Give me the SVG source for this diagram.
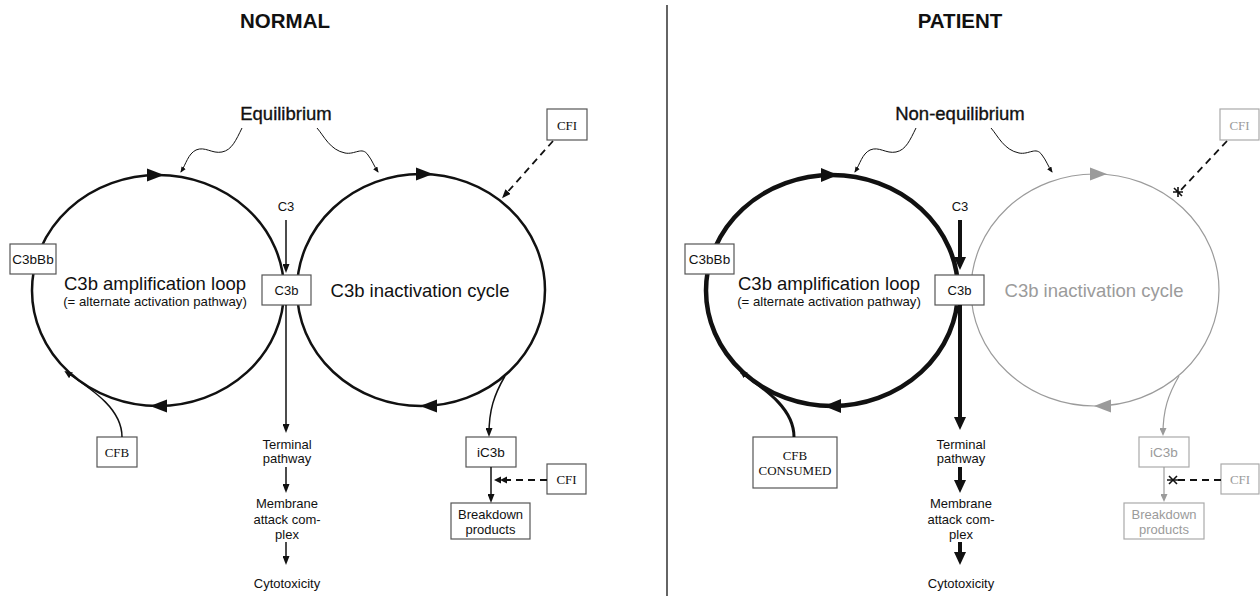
<svg xmlns="http://www.w3.org/2000/svg" width="1260" height="596" viewBox="0 0 1260 596">
<style>
text{font-family:"Liberation Sans",Arial,sans-serif;fill:#111;text-anchor:middle}
.title{font-size:20.5px;font-weight:bold}
.eq{font-size:18.5px;stroke:#111;stroke-width:0.35}
.big{font-size:18.5px}
.sub{font-size:13.2px}
.lbl{font-size:13px}
.serif{font-family:"Liberation Serif","Times New Roman",serif;font-size:13px}
.gtxt{fill:#9b9b9b}
.box{fill:#fff;stroke:#555;stroke-width:1.2}
.gbox{fill:#fff;stroke:#aaa;stroke-width:1.2}
.cyc{fill:none;stroke:#111;stroke-width:2.5}
.cycT{fill:none;stroke:#111;stroke-width:4.5}
.cycG{fill:none;stroke:#9b9b9b;stroke-width:1.2}
.head{fill:#111}
.gh{fill:#9b9b9b}
.ln{fill:none;stroke:#111;stroke-width:1.5}
.lnT{fill:none;stroke:#111;stroke-width:4}
.lnG{fill:none;stroke:#9b9b9b;stroke-width:1.2}
.wavy{fill:none;stroke:#111;stroke-width:1}
.dash{fill:none;stroke:#111;stroke-width:1.8;stroke-dasharray:7 5}
.mk{fill:none;stroke:#111;stroke-width:1.6}
</style>
<defs>
<marker id="sm" markerUnits="userSpaceOnUse" markerWidth="9" markerHeight="7" refX="6" refY="3.5" orient="auto"><path d="M0,0 L9,3.5 L0,7 z" fill="#111"/></marker>
<marker id="bg" markerUnits="userSpaceOnUse" markerWidth="13" markerHeight="12" refX="8" refY="6" orient="auto"><path d="M0,0 L13,6 L0,12 z" fill="#111"/></marker>
<marker id="ti" markerUnits="userSpaceOnUse" markerWidth="6" markerHeight="5" refX="5" refY="2.5" orient="auto"><path d="M0,0 L6,2.5 L0,5 z" fill="#111"/></marker>
<marker id="gr" markerUnits="userSpaceOnUse" markerWidth="8" markerHeight="7" refX="6" refY="3.5" orient="auto"><path d="M0,0 L8,3.5 L0,7 z" fill="#9b9b9b"/></marker>
<marker id="cb" markerUnits="userSpaceOnUse" markerWidth="8" markerHeight="7" refX="6" refY="3.5" orient="auto"><path d="M0,0 L8,3.5 L0,7 z" fill="#111"/></marker>
</defs>
<rect width="1260" height="596" fill="#fff"/>

<g id="titles">
<text class="title" x="285" y="28">NORMAL</text>
<text class="title" x="960" y="28">PATIENT</text>
<line x1="667" y1="5" x2="667" y2="596" stroke="#111" stroke-width="1.3"/>
</g>

<!-- NORMAL panel -->
<g id="n-equilibrium"><text class="eq" x="286" y="120">Equilibrium</text></g>
<g id="n-amp-loop">
<ellipse class="cyc" cx="158" cy="290.5" rx="126" ry="115.5"/>
<polygon class="head" points="164,175 147,168.5 147,181.5"/>
<polygon class="head" points="150,406 167,399.5 167,412.5"/>
<text class="big" x="155" y="290">C3b amplification loop</text>
<text class="sub" x="155" y="306">(= alternate activation pathway)</text>
</g>
<g id="n-inact-cycle">
<ellipse class="cyc" cx="421" cy="290" rx="124" ry="116"/>
<polygon class="head" points="433,174 416,167.5 416,180.5"/>
<polygon class="head" points="420,406 437,399.5 437,412.5"/>
<text class="big" x="420" y="297">C3b inactivation cycle</text>
</g>
<g id="n-c3"><text class="lbl" x="286" y="211">C3</text></g>
<g id="n-c3b"><rect class="box" x="262" y="275" width="49" height="30"/><text class="lbl" x="286.5" y="295">C3b</text></g>
<g id="n-c3bbb"><rect class="box" x="10" y="244" width="46" height="30"/><text class="lbl" x="33" y="264" style="font-size:13.5px">C3bBb</text></g>
<g id="n-cfb"><rect class="box" x="97" y="437" width="40" height="30"/><text class="serif" x="117" y="457">CFB</text></g>
<g id="n-cfi-top"><rect class="box" x="547" y="109" width="40" height="31"/><text class="serif" x="567" y="130">CFI</text></g>
<g id="n-ic3b"><rect class="box" x="466" y="437" width="50" height="30"/><text class="lbl" x="491" y="457" style="font-size:13.5px">iC3b</text></g>
<g id="n-cfi-low"><rect class="box" x="547" y="464" width="39" height="30"/><text class="serif" x="566.5" y="484">CFI</text></g>
<g id="n-breakdown"><rect class="box" x="451" y="503" width="79" height="36"/><text class="lbl" x="490.5" y="519">Breakdown</text><text class="lbl" x="490.5" y="534">products</text></g>
<g id="n-terminal"><text class="lbl" x="287" y="449">Terminal</text><text class="lbl" x="287" y="463">pathway</text></g>
<g id="n-mac"><text class="lbl" x="287" y="508">Membrane</text><text class="lbl" x="287" y="524">attack com-</text><text class="lbl" x="287" y="539">plex</text></g>
<g id="n-cyto"><text class="lbl" x="287" y="588">Cytotoxicity</text></g>

<!-- PATIENT panel -->
<g id="p-nonequilibrium"><text class="eq" x="960" y="120">Non-equilibrium</text></g>
<g id="p-amp-loop">
<ellipse class="cycT" cx="832" cy="290.5" rx="126" ry="115.5"/>
<polygon class="head" points="838,175 821,168 821,182"/>
<polygon class="head" points="824,406 841,399 841,413"/>
<text class="big" x="829" y="290">C3b amplification loop</text>
<text class="sub" x="829" y="306">(= alternate activation pathway)</text>
</g>
<g id="p-inact-cycle">
<ellipse class="cycG" cx="1095" cy="290" rx="124" ry="116"/>
<polygon class="gh" points="1107,174 1090,167.5 1090,180.5"/>
<polygon class="gh" points="1094,406 1111,399.5 1111,412.5"/>
<text class="big gtxt" x="1094" y="297">C3b inactivation cycle</text>
</g>
<g id="p-c3"><text class="lbl" x="960" y="211">C3</text></g>
<g id="p-c3b"><rect class="box" x="935" y="275" width="49" height="30"/><text class="lbl" x="959.5" y="295">C3b</text></g>
<g id="p-c3bbb"><rect class="box" x="685" y="244" width="49" height="30"/><text class="lbl" x="709.5" y="264" style="font-size:13.5px">C3bBb</text></g>
<g id="p-cfb-consumed"><rect class="box" x="753" y="437" width="84" height="51"/><text class="serif" x="795" y="460">CFB</text><text class="serif" x="795" y="475">CONSUMED</text></g>
<g id="p-cfi-top"><rect class="gbox" x="1220" y="109" width="39" height="31"/><text class="serif gtxt" x="1239.5" y="130">CFI</text></g>
<g id="p-ic3b"><rect class="gbox" x="1139" y="437" width="50" height="30"/><text class="lbl gtxt" x="1164" y="457" style="font-size:13.5px">iC3b</text></g>
<g id="p-cfi-low"><rect class="gbox" x="1221" y="464" width="38" height="30"/><text class="serif gtxt" x="1240" y="484">CFI</text></g>
<g id="p-breakdown"><rect class="gbox" x="1124" y="503" width="80" height="36"/><text class="lbl gtxt" x="1164" y="519">Breakdown</text><text class="lbl gtxt" x="1164" y="534">products</text></g>
<g id="p-terminal"><text class="lbl" x="961" y="449">Terminal</text><text class="lbl" x="961" y="463">pathway</text></g>
<g id="p-mac"><text class="lbl" x="961" y="508">Membrane</text><text class="lbl" x="961" y="524">attack com-</text><text class="lbl" x="961" y="539">plex</text></g>
<g id="p-cyto"><text class="lbl" x="961" y="588">Cytotoxicity</text></g>

<g id="connectors">
<!-- normal -->
<path class="wavy" d="M242,128 C236,140 232,150 222,152 C212,154 205,146 196,150 C188,154 186,164 181,172" marker-end="url(#ti)"/>
<path class="wavy" d="M317,128 C324,136 330,150 345,153 C355,155 362,146 368,155 C372,160 374,166 378,172" marker-end="url(#ti)"/>
<path class="ln" d="M286,220 L286,270" marker-end="url(#sm)"/>
<path class="ln" d="M286,305 L286,430" marker-end="url(#sm)"/>
<path class="ln" d="M286,467 L286,490" marker-end="url(#sm)"/>
<path class="ln" d="M286,542 L286,562" marker-end="url(#sm)"/>
<path class="ln" d="M122,437 C122,410 96,392 66,372" marker-end="url(#cb)"/>
<path class="ln" d="M505,376 C494,395 489,410 489,434" marker-end="url(#sm)"/>
<path class="ln" d="M491,467 L491,500" marker-end="url(#sm)"/>
<path class="dash" d="M553,141 L504,196" marker-end="url(#sm)"/>
<path class="dash" d="M547,480 L506,480"/>
<polygon class="head" points="494,480 501,476.5 501,483.5"/>
<polygon class="head" points="500,480 507,476.5 507,483.5"/>
<!-- patient -->
<path class="wavy" d="M916,128 C910,140 906,150 896,152 C886,154 879,146 870,150 C862,154 860,164 855,172" marker-end="url(#ti)"/>
<path class="wavy" d="M991,128 C998,136 1004,150 1019,153 C1029,155 1036,146 1042,155 C1046,160 1048,166 1052,172" marker-end="url(#ti)"/>
<path class="lnT" d="M960,220 L960,265" marker-end="url(#bg)"/>
<path class="lnT" d="M960,305 L960,425" marker-end="url(#bg)"/>
<path class="lnT" d="M960,467 L960,488" marker-end="url(#bg)"/>
<path class="lnT" d="M960,542 L960,560" marker-end="url(#bg)"/>
<path fill="none" stroke="#111" stroke-width="3" d="M794,437 C794,410 769,392 741,372" marker-end="url(#cb)"/>
<path class="lnG" d="M1179,376 C1168,395 1163,410 1163,434" marker-end="url(#gr)"/>
<path class="lnG" d="M1164,467 L1164,500" marker-end="url(#gr)"/>
<path class="dash" d="M1227,141 L1179,192"/>
<path class="mk" d="M1173,192 L1183,192 M1178,187 L1178,197 M1174,188 L1182,196"/>
<path class="dash" d="M1221,480 L1176,480"/>
<path class="ln" d="M1167,480 L1178,480"/>
<path class="mk" d="M1169,476 L1177,484 M1169,484 L1177,476"/>
</g>
</svg>
